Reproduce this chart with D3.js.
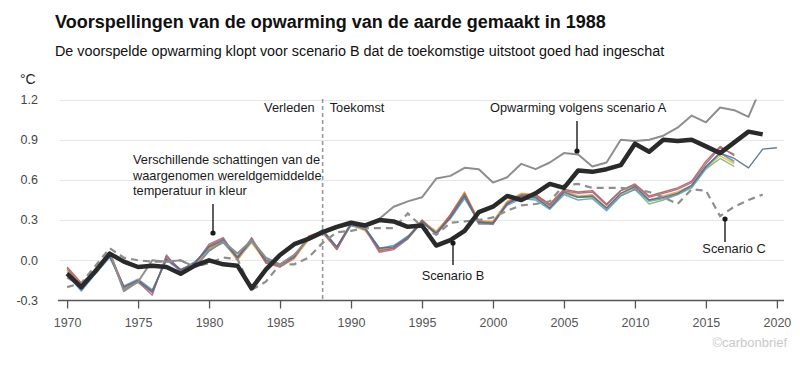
<!DOCTYPE html>
<html><head><meta charset="utf-8">
<script src="https://cdn.jsdelivr.net/npm/d3@7"></script>
<style>
html,body{margin:0;padding:0;background:#fff;}
text{font-family:"Liberation Sans",Arial,Helvetica,sans-serif;}
</style></head>
<body><svg id="c" width="800" height="369"></svg>
<script>
const firstYear = 1970;
const tickYears = [1970,1975,1980,1985,1990,1995,2000,2005,2010,2015,2020];
const tickValues = [-0.3,0.0,0.3,0.6,0.9,1.2];
const tickLabels = ["-0.3","0.0","0.3","0.6","0.9","1.2"];

// Observed temperature estimates (1970-2017)
const obsRed    = [-0.05,-0.17,-0.08,0.06,-0.20,-0.15,-0.24,0.03,-0.07,-0.02,0.11,0.16,0.02,0.16,-0.02,-0.04,0.03,0.18,0.22,0.10,0.28,0.24,0.07,0.09,0.17,0.30,0.20,0.34,0.50,0.29,0.27,0.43,0.49,0.49,0.42,0.53,0.51,0.52,0.42,0.52,0.57,0.48,0.51,0.54,0.59,0.74,0.85,0.78];
const obsMauve  = [-0.06,-0.19,-0.09,0.05,-0.22,-0.16,-0.26,0.04,-0.09,-0.03,0.12,0.17,0.01,0.17,-0.01,-0.05,0.02,0.17,0.21,0.08,0.27,0.23,0.06,0.08,0.16,0.29,0.19,0.32,0.49,0.27,0.27,0.42,0.48,0.48,0.41,0.52,0.50,0.51,0.41,0.52,0.56,0.47,0.50,0.53,0.58,0.72,0.84,0.79];
const obsBlue   = [-0.11,-0.23,-0.10,0.02,-0.19,-0.14,-0.22,0.00,-0.08,-0.01,0.08,0.13,0.02,0.14,0.01,-0.03,0.04,0.16,0.23,0.10,0.26,0.24,0.09,0.11,0.18,0.28,0.21,0.31,0.46,0.29,0.28,0.41,0.46,0.45,0.38,0.49,0.45,0.46,0.37,0.48,0.53,0.44,0.46,0.49,0.55,0.69,0.80,0.74];
const obsOrange = [-0.07,-0.19,-0.09,0.04,-0.21,-0.16,-0.24,0.02,-0.08,-0.04,0.09,0.14,0.00,0.14,-0.02,-0.05,0.01,0.16,0.21,0.08,0.27,0.23,0.08,0.09,0.17,0.30,0.21,0.34,0.51,0.29,0.29,0.44,0.50,0.49,0.41,0.52,0.48,0.49,0.39,0.50,0.55,0.45,0.48,0.51,0.56,0.70,0.80,0.73];
const obsYellow = [-0.08,-0.20,-0.10,0.04,-0.20,-0.17,-0.23,0.01,-0.07,-0.03,0.09,0.13,0.01,0.13,-0.01,-0.04,0.02,0.15,0.20,0.09,0.26,0.22,0.09,0.10,0.18,0.29,0.22,0.33,0.50,0.30,0.29,0.43,0.48,0.47,0.40,0.50,0.47,0.48,0.39,0.49,0.54,0.45,0.47,0.50,0.55,0.69,0.78,0.72];
const obsGreen  = [-0.09,-0.21,-0.10,0.03,-0.21,-0.16,-0.24,0.01,-0.08,-0.02,0.10,0.14,0.03,0.15,0.00,-0.03,0.03,0.16,0.22,0.09,0.26,0.23,0.08,0.09,0.16,0.28,0.20,0.32,0.47,0.28,0.27,0.42,0.47,0.46,0.39,0.50,0.47,0.47,0.38,0.48,0.53,0.42,0.45,0.49,0.54,0.68,0.76,0.70];
// Observed, extended to 2020
const obsSlate  = [-0.10,-0.22,-0.09,0.03,-0.20,-0.15,-0.23,0.01,-0.07,-0.02,0.10,0.15,0.02,0.15,0.00,-0.03,0.03,0.17,0.22,0.10,0.27,0.24,0.09,0.10,0.17,0.29,0.20,0.32,0.48,0.28,0.28,0.42,0.48,0.47,0.39,0.51,0.47,0.48,0.39,0.50,0.55,0.45,0.47,0.50,0.56,0.70,0.80,0.76,0.69,0.83,0.84];

// Hansen 1988 scenarios (1970-2019)
const scenarioA = [-0.13,-0.19,-0.09,0.06,-0.23,-0.16,0.00,-0.01,0.00,-0.05,
                   0.07,0.14,0.05,0.15,0.02,-0.03,0.04,0.16,0.20,0.24,
                   0.27,0.25,0.31,0.40,0.44,0.47,0.61,0.63,0.69,0.68,
                   0.58,0.62,0.72,0.68,0.73,0.80,0.79,0.70,0.73,0.90,
                   0.89,0.90,0.93,0.99,1.08,1.03,1.14,1.12,1.07,1.32];
const scenarioB = [-0.10,-0.20,-0.08,0.05,-0.01,-0.05,-0.04,-0.05,-0.10,-0.04,
                   0.00,-0.03,-0.04,-0.21,-0.07,0.04,0.12,0.16,0.21,0.25,
                   0.28,0.26,0.30,0.29,0.25,0.26,0.11,0.15,0.22,0.36,
                   0.40,0.48,0.45,0.50,0.57,0.54,0.67,0.66,0.68,0.71,
                   0.87,0.81,0.90,0.89,0.90,0.85,0.80,0.88,0.96,0.94];
const scenarioC = [-0.20,-0.17,-0.04,0.09,0.02,0.00,-0.01,-0.01,0.00,-0.05,
                   -0.02,0.02,0.01,-0.22,-0.16,-0.03,-0.03,0.02,0.13,0.21,
                   0.22,0.24,0.24,0.24,0.35,0.25,0.19,0.28,0.29,0.30,
                   0.32,0.37,0.41,0.42,0.44,0.56,0.57,0.54,0.54,0.54,
                   0.53,0.51,0.47,0.42,0.53,0.52,0.33,0.40,0.45,0.49];

const obsSeries = [
  {v: obsYellow, c: "#dcc24e"},
  {v: obsGreen,  c: "#7fb27c"},
  {v: obsOrange, c: "#e9a03c"},
  {v: obsBlue,   c: "#5c9bd0"},
  {v: obsRed,    c: "#bf5a55"},
  {v: obsMauve,  c: "#9c6a8e"},
  {v: obsSlate,  c: "#4f6f88"}
];

const svg = d3.select("#c");
const x = d3.scaleLinear().domain([1969.5, 2020.5]).range([60, 784]);
const y = d3.scaleLinear().domain([-0.3, 1.2]).range([300.5, 99.5]);

// title
svg.append("text").attr("x",55).attr("y",28).attr("font-size","18px").attr("font-weight","bold").attr("fill","#111")
  .text("Voorspellingen van de opwarming van de aarde gemaakt in 1988");
svg.append("text").attr("x",55).attr("y",56).attr("font-size","14.35px").attr("fill","#111")
  .text("De voorspelde opwarming klopt voor scenario B dat de toekomstige uitstoot goed had ingeschat");

// unit
svg.append("text").attr("x",20).attr("y",84).attr("font-size","14px").attr("fill","#222").text("°C");

// grid
svg.append("g").selectAll("line").data(tickValues.slice(1)).join("line")
  .attr("x1",60).attr("x2",784).attr("y1",d=>Math.round(y(d))+0.5).attr("y2",d=>Math.round(y(d))+0.5)
  .attr("stroke","#e6e6e6").attr("stroke-width",1.2);

// y labels
svg.append("g").selectAll("text").data(tickValues).join("text")
  .attr("x",38).attr("y",d=>y(d)).attr("dy","0.35em").attr("text-anchor","end")
  .attr("font-size","12.5px").attr("fill","#444").text((d,i)=>tickLabels[i]);

// x axis
const xAxis = d3.axisBottom(x).tickValues(tickYears).tickFormat(d3.format("d")).tickSize(8).tickSizeOuter(0).tickPadding(10);
const gx = svg.append("g").attr("transform","translate(0,300.5)").call(xAxis);
gx.select(".domain").attr("stroke","#555").attr("stroke-width",1.5).attr("d","M58,0H784");
gx.selectAll(".tick line").attr("stroke","#555").attr("stroke-width",1.3);
gx.selectAll(".tick text").attr("font-size","12.5px").attr("fill","#555").attr("font-family","Liberation Sans, Arial, sans-serif");

// past / future divider
svg.append("line").attr("x1",x(1988)).attr("x2",x(1988)).attr("y1",99).attr("y2",300)
  .attr("stroke","#999").attr("stroke-width",1.6).attr("stroke-dasharray","4,3");

svg.append("defs").append("clipPath").attr("id","clip").append("rect")
  .attr("x",55).attr("y",y(1.2)).attr("width",740).attr("height",y(-0.3)-y(1.2)+10);

const line = d3.line().x((d,i)=>x(firstYear+i)).y(d=>y(d));
const plot = svg.append("g").attr("clip-path","url(#clip)");

obsSeries.forEach(s=>{
  plot.append("path").attr("d",line(s.v)).attr("fill","none").attr("stroke",s.c)
    .attr("stroke-width",1.4).attr("stroke-opacity",0.9).attr("stroke-linejoin","round");
});
plot.append("path").attr("d",line(scenarioC)).attr("fill","none").attr("stroke","#8e8e8e")
  .attr("stroke-width",2.2).attr("stroke-dasharray","7,5");
plot.append("path").attr("d",line(scenarioA)).attr("fill","none").attr("stroke","#8e8e8e")
  .attr("stroke-width",2).attr("stroke-linejoin","round");
plot.append("path").attr("d",line(scenarioB)).attr("fill","none").attr("stroke","#2a2a2a")
  .attr("stroke-width",4.5).attr("stroke-linejoin","round");

// annotations
const ann = svg.append("g").attr("font-size","12.8px").attr("fill","#1a1a1a");
ann.append("text").attr("x",x(1988)-8).attr("y",112).attr("text-anchor","end").text("Verleden");
ann.append("text").attr("x",x(1988)+7).attr("y",112).text("Toekomst");
ann.append("text").attr("x",490).attr("y",112).text("Opwarming volgens scenario A");
ann.append("text").attr("x",133).attr("y",164).text("Verschillende schattingen van de");
ann.append("text").attr("x",133).attr("y",180).text("waargenomen wereldgemiddelde");
ann.append("text").attr("x",133).attr("y",195).text("temperatuur in kleur");
ann.append("text").attr("x",453).attr("y",280).attr("text-anchor","middle").text("Scenario B");
ann.append("text").attr("x",734).attr("y",253).attr("text-anchor","middle").text("Scenario C");

function pointer(px, y1, y2){
  svg.append("line").attr("x1",px).attr("x2",px).attr("y1",y1).attr("y2",y2).attr("stroke","#1a1a1a").attr("stroke-width",1.4);
  svg.append("circle").attr("cx",px).attr("cy",y2).attr("r",2.6).attr("fill","#1a1a1a");
}
pointer(577,121,151);
pointer(213,204,233);
pointer(453,265,243);
pointer(725,242,219);

svg.append("text").attr("x",787).attr("y",347).attr("text-anchor","end").attr("font-size","13px").attr("fill","#c9c9c9").text("©carbonbrief");
</script></body></html>
